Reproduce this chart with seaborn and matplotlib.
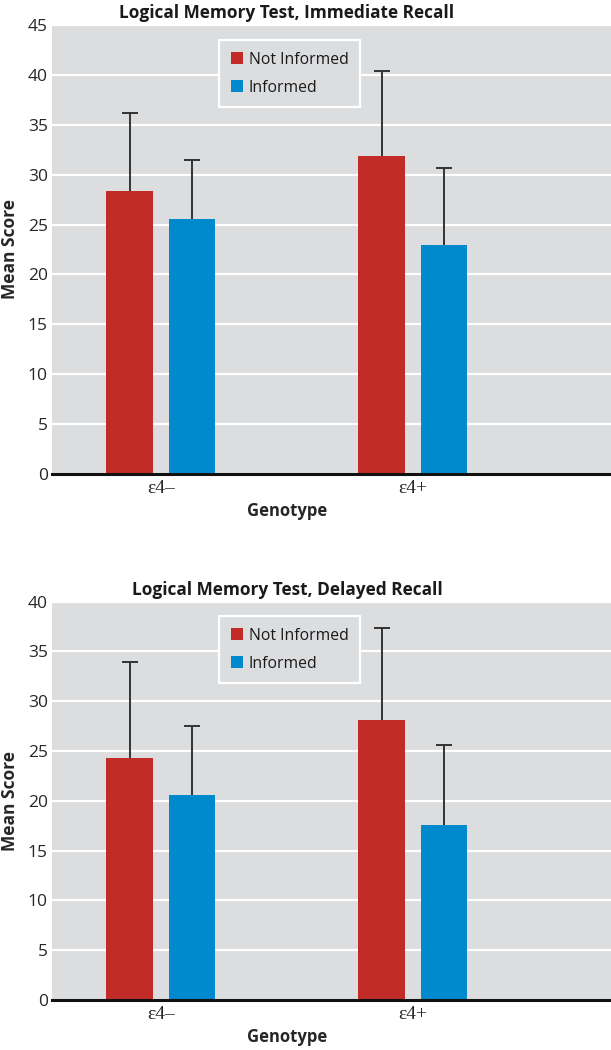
import numpy as np
import pandas as pd
import matplotlib
matplotlib.use("Agg")
import matplotlib.pyplot as plt
import seaborn as sns

# Data
genotypes = ["ε4–", "ε4+"]
groups = ["Not Informed", "Informed"]

immediate_not_informed = [28.4, 31.9]
immediate_informed = [25.6, 22.9]
immediate_sd_not_informed = [7.8, 8.5]
immediate_sd_informed = [5.9, 7.8]

delayed_not_informed = [24.3, 28.1]
delayed_informed = [20.6, 17.6]
delayed_sd_not_informed = [9.6, 9.3]
delayed_sd_informed = [6.9, 8.0]

# Style
red = "#c12c28"
blue = "#0089cc"
panel_gray = "#dcdddf"
err_color = "#333333"

sns.set_theme(style="white")
plt.rcParams["font.family"] = ["Open Sans", "DejaVu Sans"]
plt.rcParams["text.color"] = "#1a1a1a"


def make_frame(ni, inf):
    rows = []
    for g, v in zip(genotypes, ni):
        rows.append({"Genotype": g, "Group": "Not Informed", "Score": v})
    for g, v in zip(genotypes, inf):
        rows.append({"Genotype": g, "Group": "Informed", "Score": v})
    return pd.DataFrame(rows)


def draw_panel(ax, df, sds, title, ymax, legend_top):
    ax.set_facecolor(panel_gray)

    sns.barplot(
        data=df,
        x="Genotype",
        y="Score",
        hue="Group",
        order=genotypes,
        hue_order=groups,
        palette=[red, blue],
        errorbar=None,
        width=0.496,
        gap=0.256,
        saturation=1,
        linewidth=0,
        ax=ax,
        zorder=3,
    )

    # one-sided (upper) error bars on each bar
    for container, sd in zip(ax.containers, sds):
        xs = [p.get_x() + p.get_width() / 2 for p in container]
        ys = [p.get_height() for p in container]
        eb = ax.errorbar(
            xs, ys,
            yerr=[np.zeros(len(sd)), sd],
            fmt="none",
            ecolor=err_color,
            elinewidth=1.4,
            capsize=6,
            capthick=1.4,
            zorder=2,
        )
        # hide the lower cap sitting on the bar top
        eb[1][0].set_visible(False)

    xmin, xmax = -0.432, 1.786
    ax.set_xlim(xmin, xmax)
    ax.set_ylim(0, ymax)
    ax.set_yticks(np.arange(0, ymax + 1, 5))

    ax.yaxis.grid(True, color="white", linewidth=1.6)
    ax.set_axisbelow(True)

    for side in ["top", "right", "left"]:
        ax.spines[side].set_visible(False)
    ax.spines["bottom"].set_color("#111111")
    ax.spines["bottom"].set_linewidth(2.2)
    ax.spines["bottom"].set_zorder(4)

    ax.tick_params(axis="both", length=0, pad=4)
    ax.tick_params(axis="y", labelsize=12.5, pad=3)
    for lbl in ax.get_xticklabels():
        lbl.set_fontfamily(["Liberation Serif", "DejaVu Serif"])
        lbl.set_fontsize(14)

    mid = (0.5 - xmin) / (xmax - xmin)
    ax.set_xlabel("Genotype", fontsize=12, fontweight="bold", labelpad=4)
    ax.xaxis.label.set_x(mid)
    ax.set_ylabel("Mean Score", fontsize=12.5, fontweight="bold", labelpad=6)

    ax.set_title(title, fontsize=12.4, fontweight="bold", pad=5, x=mid)

    leg = ax.legend(
        loc="upper left",
        bbox_to_anchor=(0.2988, legend_top),
        borderaxespad=0,
        frameon=True,
        fancybox=False,
        facecolor=panel_gray,
        edgecolor="white",
        framealpha=1,
        fontsize=11.3,
        handlelength=0.8,
        handleheight=0.8,
        handletextpad=0.35,
        labelspacing=0.75,
        borderpad=0.75,
        title=None,
    )
    leg.get_frame().set_linewidth(1.6)
    leg.set_zorder(5)


fig = plt.figure(figsize=(6.11, 10.5), dpi=100)
ax1 = fig.add_axes([0.0851, 0.5486, 1 - 0.0851, 0.4276])
ax2 = fig.add_axes([0.0851, 0.0476, 1 - 0.0851, 0.3794])

draw_panel(
    ax1,
    make_frame(immediate_not_informed, immediate_informed),
    [immediate_sd_not_informed, immediate_sd_informed],
    "Logical Memory Test, Immediate Recall",
    45,
    0.9666,
)
draw_panel(
    ax2,
    make_frame(delayed_not_informed, delayed_informed),
    [delayed_sd_not_informed, delayed_sd_informed],
    "Logical Memory Test, Delayed Recall",
    40,
    0.964,
)

fig.savefig("out.png", dpi=100)
plt.close(fig)
